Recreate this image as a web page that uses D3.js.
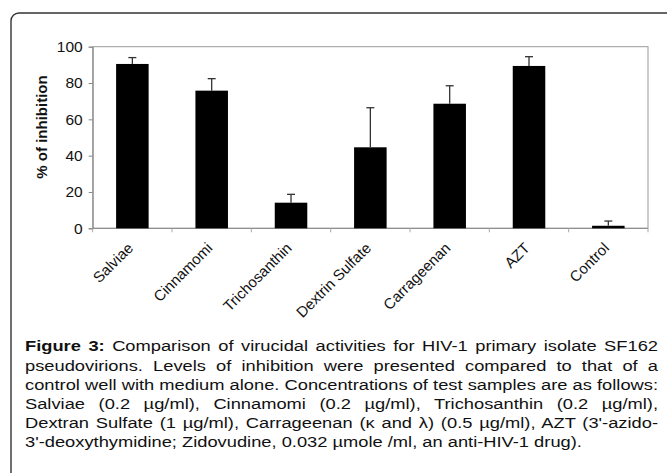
<!DOCTYPE html>
<html>
<head>
<meta charset="utf-8">
<script src="https://cdn.jsdelivr.net/npm/d3@7"></script>
<style>
  body { margin: 0; background: #fff; }
  svg { display: block; font-family: "Liberation Sans", Arial, sans-serif; }
</style>
</head>
<body>
<svg id="chart" width="667" height="473"></svg>
<script>
// data
const categories = ["Salviae", "Cinnamomi", "Trichosanthin", "Dextrin Sulfate", "Carrageenan", "AZT", "Control"];
const inhibition = [90.5, 75.8, 14.1, 44.6, 68.6, 89.4, 1.4];
const errors = [3.5, 6.6, 4.6, 21.8, 9.9, 5.1, 2.6];
const yTicks = [0, 20, 40, 60, 80, 100];
const captionLines = [
  "Comparison of virucidal activities for HIV-1 primary isolate SF162",
  "pseudovirions. Levels of inhibition were presented compared to that of a",
  "control well with medium alone. Concentrations of test samples are as follows:",
  "Salviae (0.2 µg/ml), Cinnamomi (0.2 µg/ml), Trichosanthin (0.2 µg/ml),",
  "Dextran Sulfate (1 µg/ml), Carrageenan (κ and λ) (0.5 µg/ml), AZT (3'-azido-",
  "3'-deoxythymidine; Zidovudine, 0.032 µmole /ml, an anti-HIV-1 drug)."
];

const data = categories.map((c, i) => ({ name: c, value: inhibition[i], err: errors[i] }));

const svg = d3.select("#chart");

// outer frame (runs off the right and bottom edges)
svg.append("rect")
  .attr("x", 11).attr("y", 13)
  .attr("width", 720).attr("height", 520)
  .attr("rx", 8)
  .attr("fill", "none")
  .attr("stroke", "#333")
  .attr("stroke-width", 1.4);

const plot = { left: 92.7, right: 648, top: 46.7, bottom: 228.3 };

const x = d3.scaleBand()
  .domain(categories)
  .range([plot.left, plot.right])
  .paddingInner(0.59)
  .paddingOuter(0.295);

const y = d3.scaleLinear().domain([0, 100]).range([plot.bottom, plot.top]);

// plot border
svg.append("rect")
  .attr("x", plot.left).attr("y", plot.top)
  .attr("width", plot.right - plot.left)
  .attr("height", plot.bottom - plot.top)
  .attr("fill", "none")
  .attr("stroke", "#999")
  .attr("stroke-width", 1);

// y axis
const yAxis = svg.append("g")
  .attr("transform", `translate(${plot.left},0)`)
  .call(d3.axisLeft(y).tickValues(yTicks).tickSize(4).tickPadding(6));
yAxis.select(".domain").attr("stroke", "#888");
yAxis.selectAll(".tick line").attr("stroke", "#888");
yAxis.selectAll(".tick text")
  .attr("fill", "#111")
  .style("font-size", "15.5px")
  .style("font-family", "'Liberation Sans', Arial, sans-serif");

svg.append("text")
  .attr("transform", "translate(47,127) rotate(-90)")
  .attr("text-anchor", "middle")
  .style("font-size", "15px")
  .style("font-weight", "bold")
  .attr("fill", "#111")
  .text("% of inhibition");

// x axis: ticks sit on the category boundaries
const step = x.step();
const boundaries = d3.range(categories.length + 1).map(i => plot.left + i * step);
svg.append("line")
  .attr("x1", plot.left).attr("x2", plot.right)
  .attr("y1", plot.bottom).attr("y2", plot.bottom)
  .attr("stroke", "#888");
svg.append("g").selectAll("line")
  .data(boundaries)
  .join("line")
  .attr("x1", d => d).attr("x2", d => d)
  .attr("y1", plot.bottom).attr("y2", plot.bottom + 4)
  .attr("stroke", "#aaa");

svg.append("g").selectAll("text")
  .data(categories)
  .join("text")
  .attr("transform", d => `translate(${x(d) + x.bandwidth() / 2 - 2},${plot.bottom + 17}) rotate(-45)`)
  .attr("text-anchor", "end")
  .attr("dy", "0.35em")
  .style("font-size", "15px")
  .attr("fill", "#111")
  .text(d => d);

// bars
svg.append("g").selectAll("rect")
  .data(data)
  .join("rect")
  .attr("x", d => x(d.name))
  .attr("width", x.bandwidth())
  .attr("y", d => y(d.value))
  .attr("height", d => y(0) - y(d.value))
  .attr("fill", "#000");

// error bars (upper only)
const eb = svg.append("g").attr("stroke", "#333").attr("stroke-width", 1.3);
data.forEach(d => {
  const cx = x(d.name) + x.bandwidth() / 2;
  eb.append("line")
    .attr("x1", cx).attr("x2", cx)
    .attr("y1", y(d.value)).attr("y2", y(d.value + d.err));
  eb.append("line")
    .attr("x1", cx - 4).attr("x2", cx + 4)
    .attr("y1", y(d.value + d.err)).attr("y2", y(d.value + d.err));
});

// caption: glyphs are a bit wider than tall in the original, so the block is
// stretched horizontally, then each line but the last is justified
const capLeft = 25, capRight = 658, capTop = 351.5, lineH = 19.2;
const cap = svg.append("g").style("font-size", "15px").attr("fill", "#111");
const texts = captionLines.map((line, i) => {
  const t = cap.append("text").attr("x", 0).attr("y", capTop + i * lineH);
  if (i === 0) {
    t.append("tspan").style("font-weight", "bold").text("Figure 3:");
    t.append("tspan").text(" " + line);
  } else {
    t.text(line);
  }
  return t;
});
// the third line is set tight in the original, so it fixes the stretch
const sx = (capRight - capLeft) / texts[2].node().getComputedTextLength();
cap.attr("transform", `translate(${capLeft},0) scale(${sx},1)`);
const inner = (capRight - capLeft) / sx;
texts.forEach((t, i) => {
  if (i === texts.length - 1) return;
  const full = i === 0 ? "Figure 3: " + captionLines[0] : captionLines[i];
  const gaps = full.split(" ").length - 1;
  const w = t.node().getComputedTextLength();
  t.style("word-spacing", ((inner - w) / gaps) + "px");
});
</script>
</body>
</html>
